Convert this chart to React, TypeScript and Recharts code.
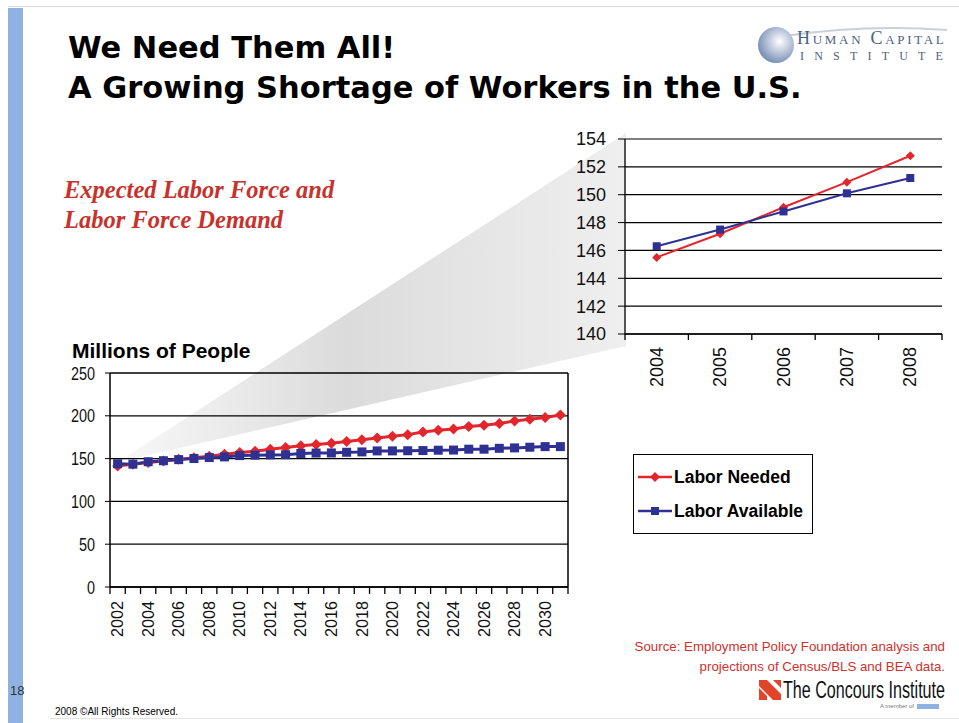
import React from "react";
import {
  CartesianGrid,
  Legend,
  Line,
  LineChart,
  ReferenceLine,
  XAxis,
  YAxis,
} from "recharts";

// years on the main chart
const years = [
  2002, 2003, 2004, 2005, 2006, 2007, 2008, 2009, 2010, 2011, 2012, 2013, 2014, 2015, 2016,
  2017, 2018, 2019, 2020, 2021, 2022, 2023, 2024, 2025, 2026, 2027, 2028, 2029, 2030, 2031,
];

// millions of people
const laborNeeded = [
  141.5, 143.5, 145.5, 147.2, 149.1, 150.9, 152.8, 155, 157, 158.5, 161, 163, 165, 166.5, 168,
  170, 172, 174, 176, 178, 181, 183, 184.5, 187.5, 189, 191, 194, 196, 198, 201,
];
const laborAvailable = [
  144, 143.5, 146.3, 147.5, 148.8, 150.1, 151.2, 152, 153.5, 154, 154.3, 154.5, 156, 156.5,
  156.6, 157.4, 157.8, 159, 159, 159.2, 159.4, 159.8, 160, 161, 161, 162, 162.5, 163.3, 164, 164,
];

const mainYTicks = [0, 50, 100, 150, 200, 250];
const insetYTicks = [140, 142, 144, 146, 148, 150, 152, 154];
const insetFirst = 2004;
const insetLast = 2008;
const seriesOrder = ["needed", "available"];

const RED = "#e4262c";
const BLUE = "#2e3192";
const ARIAL = '"Liberation Sans", Arial, sans-serif';

const mainData = years.map((year, i) => ({
  year,
  needed: laborNeeded[i],
  available: laborAvailable[i],
}));
const insetData = mainData.filter((d) => d.year >= insetFirst && d.year <= insetLast);

// tick marks sit between categories (as in Excel), labels sit on the categories
const boundaries = (list: number[]) => [...list.map((y) => y - 0.5), list[list.length - 1] + 0.5];
const mainXTicks = [...boundaries(years), ...years.filter((y) => y % 2 === 0)].sort((a, b) => a - b);
const insetYears = insetData.map((d) => d.year);
const insetXTicks = [...boundaries(insetYears), ...insetYears].sort((a, b) => a - b);

function makeXTick(tickLen: number, size: number, squeeze: number) {
  return (props: any) => {
    const { x, y, payload } = props;
    const v = payload.value as number;
    if (!Number.isInteger(v)) {
      return <line x1={x} x2={x} y1={y - tickLen} y2={y} stroke="#000" strokeWidth={1.3} />;
    }
    const ty = y + 7;
    return (
      <text
        transform={`translate(${x},${ty}) rotate(-90) scale(${squeeze},1)`}
        textAnchor="end"
        dominantBaseline="central"
        fontFamily={ARIAL}
        fontSize={size}
        fill="#111"
      >
        {v}
      </text>
    );
  };
}

function narrowYTick(props: any) {
  const { x, y, payload } = props;
  return (
    <text
      transform={`translate(${x},${y}) scale(0.8,1)`}
      textAnchor="end"
      dominantBaseline="central"
      fontFamily={ARIAL}
      fontSize={18}
      fill="#111"
    >
      {payload.value}
    </text>
  );
}

function diamondDot(r: number) {
  return (p: any) => {
    const { cx, cy, index } = p;
    if (cx == null || cy == null) return <g key={index} />;
    return (
      <path
        key={index}
        d={`M${cx},${cy - r}L${cx + r},${cy}L${cx},${cy + r}L${cx - r},${cy}Z`}
        fill={RED}
      />
    );
  };
}

function squareDot(r: number) {
  return (p: any) => {
    const { cx, cy, index } = p;
    if (cx == null || cy == null) return <g key={index} />;
    return <rect key={index} x={cx - r} y={cy - r} width={r * 2} height={r * 2} fill={BLUE} />;
  };
}

function LegendBox({ payload }: any) {
  const items = [...(payload || [])].sort(
    (a: any, b: any) => seriesOrder.indexOf(a.dataKey) - seriesOrder.indexOf(b.dataKey)
  );
  return (
    <div
      style={{
        border: "1.5px solid #000",
        background: "#fff",
        padding: "5px 4px",
        width: 180,
        height: 80,
        boxSizing: "border-box",
      }}
    >
      {items.map((entry: any) => (
        <div key={entry.value} style={{ display: "flex", alignItems: "center", height: 34 }}>
          <svg width={34} height={14} style={{ marginRight: 2, flex: "none" }}>
            <line x1={0} x2={34} y1={7} y2={7} stroke={entry.color} strokeWidth={2.5} />
            {entry.dataKey === "needed" ? (
              <path d="M17,2L22,7L17,12L12,7Z" fill={RED} />
            ) : (
              <rect x={13} y={3} width={8} height={8} fill={BLUE} />
            )}
          </svg>
          <span
            style={{
              fontFamily: ARIAL,
              fontWeight: 700,
              fontSize: 17.5,
              color: "#000",
              whiteSpace: "nowrap",
            }}
          >
            {entry.value}
          </span>
        </div>
      ))}
    </div>
  );
}

function MainChart() {
  return (
    <LineChart
      width={760}
      height={300}
      data={mainData}
      margin={{ top: 13, right: 252, bottom: 0, left: 0 }}
    >
      <CartesianGrid vertical={false} stroke="#000" strokeWidth={1.3} />
      <XAxis
        dataKey="year"
        type="number"
        domain={[years[0] - 0.5, years[years.length - 1] + 0.5]}
        ticks={mainXTicks}
        interval={0}
        tickLine={false}
        tickSize={7}
        tickMargin={0}
        height={73}
        axisLine={{ stroke: "#000", strokeWidth: 1.5 }}
        tick={makeXTick(7, 17, 0.95)}
      />
      <YAxis
        domain={[0, 250]}
        ticks={mainYTicks}
        width={50}
        tickSize={5}
        tickMargin={10}
        axisLine={{ stroke: "#000", strokeWidth: 1.5 }}
        tickLine={{ stroke: "#000" }}
        tick={narrowYTick}
      />
      <ReferenceLine x={years[years.length - 1] + 0.5} stroke="#000" strokeWidth={1.5} />
      <Line
        dataKey="needed"
        name="Labor Needed"
        stroke={RED}
        strokeWidth={3}
        dot={diamondDot(5.5)}
        isAnimationActive={false}
      />
      <Line
        dataKey="available"
        name="Labor Available"
        stroke={BLUE}
        strokeWidth={3}
        dot={squareDot(4.5)}
        isAnimationActive={false}
      />
      <Legend
        layout="vertical"
        align="center"
        verticalAlign="middle"
        content={<LegendBox />}
        wrapperStyle={{ left: 573, top: 94, width: 180 }}
      />
    </LineChart>
  );
}

function InsetChart() {
  return (
    <LineChart
      width={390}
      height={270}
      data={insetData}
      margin={{ top: 14, right: 8, bottom: 0, left: 0 }}
    >
      <CartesianGrid vertical={false} stroke="#000" strokeWidth={1.2} />
      <XAxis
        dataKey="year"
        type="number"
        domain={[insetFirst - 0.5, insetLast + 0.5]}
        ticks={insetXTicks}
        interval={0}
        tickLine={false}
        tickSize={6}
        tickMargin={0}
        height={61}
        axisLine={{ stroke: "#000", strokeWidth: 1.3 }}
        tick={makeXTick(6, 18, 1)}
      />
      <YAxis
        domain={[140, 154]}
        ticks={insetYTicks}
        width={65}
        tickSize={7}
        tickMargin={12}
        axisLine={{ stroke: "#000", strokeWidth: 1.3 }}
        tickLine={{ stroke: "#000" }}
        tick={{ fill: "#111", fontSize: 18, fontFamily: ARIAL }}
      />
      <Line
        dataKey="needed"
        name="Labor Needed"
        stroke={RED}
        strokeWidth={2}
        dot={diamondDot(4.5)}
        isAnimationActive={false}
      />
      <Line
        dataKey="available"
        name="Labor Available"
        stroke={BLUE}
        strokeWidth={2}
        dot={squareDot(4)}
        isAnimationActive={false}
      />
    </LineChart>
  );
}

const abs = (left: number, top: number, extra: React.CSSProperties = {}): React.CSSProperties => ({
  position: "absolute",
  left,
  top,
  lineHeight: 1,
  whiteSpace: "nowrap",
  ...extra,
});

export default function App() {
  return (
    <div
      style={{
        position: "absolute",
        left: 0,
        top: 0,
        width: 959,
        height: 723,
        background: "#fff",
        overflow: "hidden",
      }}
    >
      {/* slide frame */}
      <div style={abs(8, 6, { width: 951, height: 1, background: "#dcdcdc" })} />
      <div style={abs(8, 8, { width: 15, height: 715, background: "#8fb2e3" })} />
      <div style={abs(50, 718, { width: 909, height: 1, background: "#e4e4e4" })} />

      {/* zoom wedge */}
      <svg width={959} height={723} style={{ position: "absolute", left: 0, top: 0 }}>
        <defs>
          <linearGradient id="wedge" x1="0" x2="1" y1="0" y2="0">
            <stop offset="0%" stopColor="#d8d8d8" stopOpacity={0.2} />
            <stop offset="45%" stopColor="#d2d2d2" stopOpacity={0.8} />
            <stop offset="100%" stopColor="#e6e6e6" stopOpacity={0.65} />
          </linearGradient>
        </defs>
        <polygon points="118,462 626,133 626,346" fill="url(#wedge)" />
      </svg>

      <div style={abs(68, 33, { fontFamily: '"DejaVu Sans", sans-serif', fontWeight: 700, fontSize: 30.5 })}>
        We Need Them All!
      </div>
      <div style={abs(68, 73, { fontFamily: '"DejaVu Sans", sans-serif', fontWeight: 700, fontSize: 30.5 })}>
        A Growing Shortage of Workers in the U.S.
      </div>

      {/* logo */}
      <svg width={200} height={50} style={{ position: "absolute", left: 755, top: 22 }}>
        <defs>
          <radialGradient id="orb" cx="0.6" cy="0.4" r="0.6">
            <stop offset="0%" stopColor="#ffffff" />
            <stop offset="100%" stopColor="#7d93b8" />
          </radialGradient>
        </defs>
        <path d="M30,14 Q110,2 192,8" fill="none" stroke="#c9d0dc" strokeWidth={2} />
        <circle cx={21} cy={23} r={18} fill="url(#orb)" />
      </svg>
      <div
        style={abs(797, 29, {
          fontFamily: '"Liberation Serif", serif',
          fontSize: 18,
          color: "#4d5f80",
          fontVariant: "small-caps",
          letterSpacing: 2.7,
        })}
      >
        Human Capital
      </div>
      <div
        style={abs(800, 50, {
          fontFamily: '"Liberation Serif", serif',
          fontSize: 12,
          color: "#4d5f80",
          letterSpacing: 10.2,
        })}
      >
        INSTITUTE
      </div>

      <div
        style={abs(64, 175, {
          fontFamily: '"Liberation Serif", serif',
          fontStyle: "italic",
          fontWeight: 700,
          fontSize: 24.5,
          color: "#c8322c",
          lineHeight: "30px",
          whiteSpace: "normal",
          width: 340,
        })}
      >
        Expected Labor Force and
        <br />
        Labor Force Demand
      </div>

      <div style={abs(72, 340, { fontFamily: ARIAL, fontWeight: 700, fontSize: 21, color: "#000" })}>
        Millions of People
      </div>

      <div style={{ position: "absolute", left: 560, top: 125 }}>
        <InsetChart />
      </div>
      <div style={{ position: "absolute", left: 60, top: 360 }}>
        <MainChart />
      </div>

      {/* source and footer */}
      <div
        style={abs(0, 637, {
          width: 945,
          textAlign: "right",
          fontFamily: ARIAL,
          fontSize: 13.3,
          color: "#d0302c",
          lineHeight: "20px",
          whiteSpace: "normal",
        })}
      >
        Source: Employment Policy Foundation analysis and
        <br />
        projections of Census/BLS and BEA data.
      </div>
      <svg width={22} height={20} style={{ position: "absolute", left: 759, top: 680 }}>
        <polygon points="0,0 8,0 22,14 22,20 14,20 0,6" fill="#e0452a" />
        <polygon points="0,8 8,16 8,20 0,20" fill="#e0452a" />
        <polygon points="14,0 22,0 22,8" fill="#e0452a" />
      </svg>
      <div
        style={abs(700, 679, {
          width: 245,
          textAlign: "right",
          fontFamily: ARIAL,
          fontSize: 23,
          color: "#111",
          transform: "scaleX(0.7)",
          transformOrigin: "right center",
        })}
      >
        The Concours Institute
      </div>
      <div style={abs(880, 703, { fontFamily: ARIAL, fontSize: 6, color: "#777" })}>
        A member of
        <span
          style={{
            display: "inline-block",
            width: 22,
            height: 5,
            marginLeft: 3,
            background: "#8fb2e3",
            verticalAlign: "middle",
          }}
        />
      </div>

      <div style={abs(10, 684, { fontFamily: ARIAL, fontSize: 13, color: "#333" })}>18</div>
      <div style={abs(55, 707, { fontFamily: ARIAL, fontSize: 10, color: "#000" })}>
        2008 ©All Rights Reserved.
      </div>
    </div>
  );
}
